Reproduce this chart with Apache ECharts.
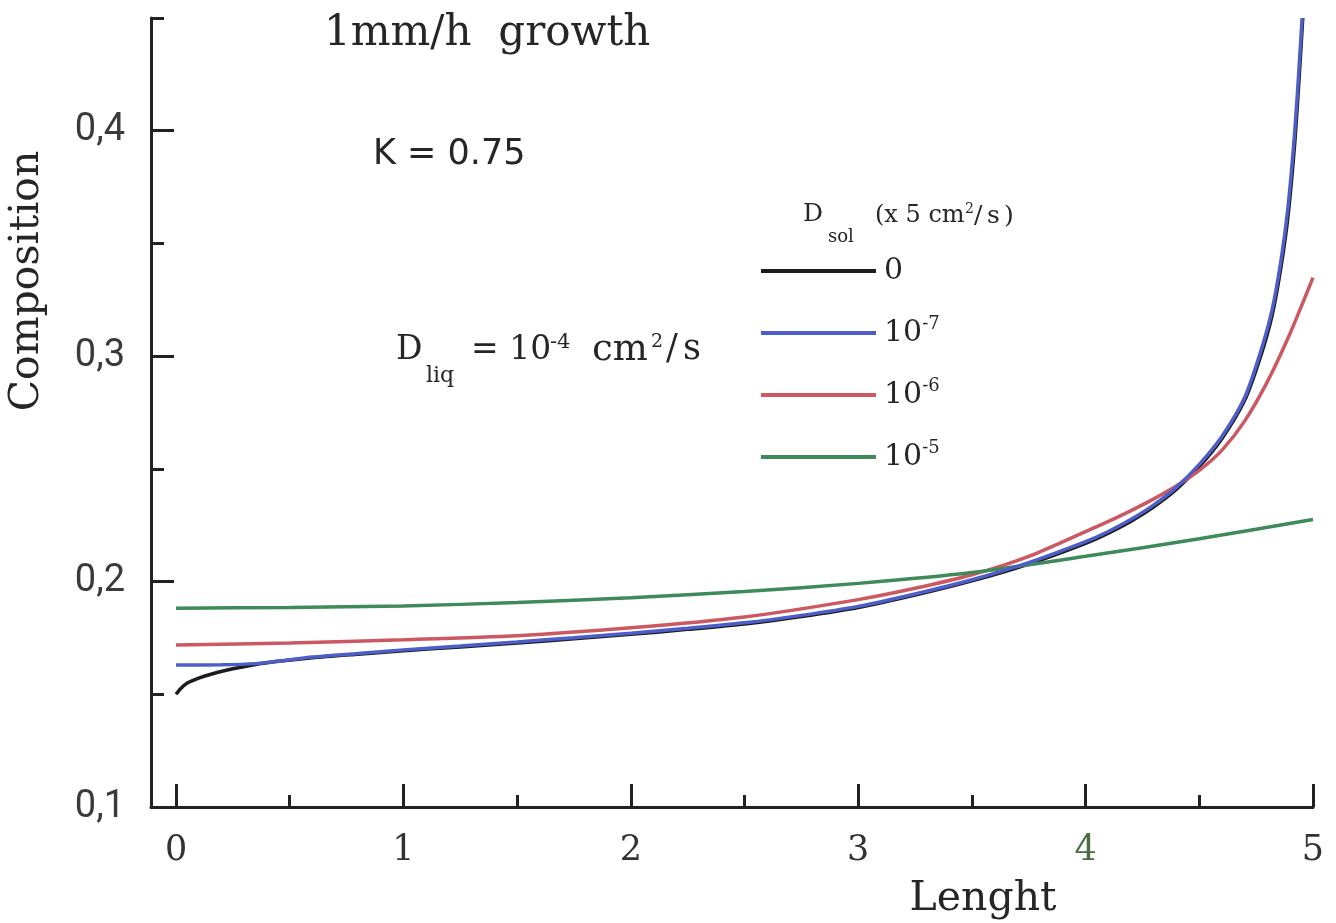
<!doctype html>
<html>
<head>
<meta charset="UTF-8">
<title>Composition vs Lenght</title>
<script src="https://cdn.jsdelivr.net/npm/echarts@6.0.0/dist/echarts.min.js"></script>
<style>
  html, body { margin: 0; padding: 0; background: #fff; }
  #chart { width: 1336px; height: 923px; }
</style>
</head>
<body>
<div id="chart"></div>
<script>
// Dsol = 0
var lenBlack = [0, 0.02, 0.05, 0.1, 0.15, 0.25, 0.4, 0.6, 0.8, 1.0, 1.25, 1.5, 1.75, 2.0, 2.25, 2.5, 2.75, 3.0, 3.25, 3.5, 3.75, 4.0, 4.1, 4.2, 4.3, 4.4, 4.5, 4.6, 4.7, 4.77, 4.82, 4.86, 4.89, 4.92, 4.94, 4.955];
var compBlack = [0.1500, 0.1525, 0.1550, 0.1572, 0.1588, 0.1613, 0.1640, 0.1662, 0.1678, 0.1693, 0.1710, 0.1728, 0.1746, 0.1766, 0.1788, 0.1812, 0.1845, 0.1885, 0.1940, 0.2003, 0.2078, 0.2170, 0.2215, 0.2268, 0.2332, 0.2410, 0.2510, 0.2635, 0.2805, 0.3000, 0.3180, 0.3400, 0.3620, 0.3950, 0.4250, 0.4500];
// Dsol = 10-7
var lenBlue = [0, 0.2, 0.35, 0.45, 0.6, 0.8, 1.0, 1.25, 1.5, 1.75, 2.0, 2.25, 2.5, 2.75, 3.0, 3.25, 3.5, 3.75, 4.0, 4.1, 4.2, 4.3, 4.4, 4.5, 4.6, 4.7, 4.77, 4.82, 4.86, 4.89, 4.92, 4.94, 4.952];
var compBlue = [0.1630, 0.1631, 0.1636, 0.1647, 0.1665, 0.1681, 0.1697, 0.1714, 0.1732, 0.1751, 0.1771, 0.1793, 0.1817, 0.1850, 0.1890, 0.1945, 0.2008, 0.2084, 0.2177, 0.2222, 0.2276, 0.2340, 0.2419, 0.2520, 0.2645, 0.2818, 0.3020, 0.3205, 0.3430, 0.3660, 0.4000, 0.4300, 0.4500];
// Dsol = 10-6
var lenRed = [0, 0.5, 1.0, 1.5, 2.0, 2.5, 3.0, 3.25, 3.5, 3.75, 4.0, 4.1, 4.2, 4.3, 4.4, 4.5, 4.6, 4.7, 4.8, 4.9, 5.0];
var compRed = [0.1719, 0.1728, 0.1742, 0.1760, 0.1795, 0.1843, 0.1920, 0.1970, 0.2030, 0.2112, 0.2222, 0.2267, 0.2315, 0.2367, 0.2425, 0.2493, 0.2583, 0.2713, 0.2888, 0.3103, 0.3348];
// Dsol = 10-5
var lenGreen = [0, 0.5, 1.0, 1.5, 2.0, 2.5, 3.0, 3.5, 4.0, 4.5, 5.0];
var compGreen = [0.1882, 0.1885, 0.1892, 0.1907, 0.1928, 0.1956, 0.1992, 0.2040, 0.2112, 0.2190, 0.2275];

var seriesNames = ['0', '10-7', '10-6', '10-5'];
var seriesColors = ['#1c1c1c', '#4d5ec8', '#cc5962', '#3f8a5a'];

var xMajor = [0, 1, 2, 3, 4, 5];
var xMinor = [0.5, 1.5, 2.5, 3.5, 4.5];
var yMajor = [0.1, 0.2, 0.3, 0.4];
var yMinor = [0.15, 0.25, 0.35, 0.45];

var chart = echarts.init(document.getElementById('chart'));

function pairs(xs, ys) {
  return xs.map(function(x, i) { return [x, ys[i]]; });
}

var SERIF = 'DejaVu Serif, serif';
var INK = '#262626';

function txt(x, y, s, size, family, extra) {
  var st = { text: s, fontSize: size, fontFamily: family || SERIF, fill: INK, align: 'left', verticalAlign: 'middle' };
  for (var k in (extra || {})) st[k] = extra[k];
  return { type: 'text', x: x, y: y, style: st, z: 10 };
}

var lines = [
  pairs(lenBlack, compBlack),
  pairs(lenBlue, compBlue),
  pairs(lenRed, compRed),
  pairs(lenGreen, compGreen)
];

var option = {
  backgroundColor: '#ffffff',
  animation: false,
  grid: { left: 151, right: 23, top: 18, bottom: 116 },
  legend: {
    orient: 'vertical',
    left: 761,
    top: 253,
    padding: 0,
    itemGap: 26,
    itemWidth: 115,
    itemHeight: 4,
    icon: 'rect',
    selectedMode: false,
    data: seriesNames,
    formatter: function(name) {
      return name === '0' ? '0' : '10{s|' + name.slice(2) + '}';
    },
    textStyle: {
      fontFamily: SERIF,
      fontSize: 30,
      lineHeight: 36,
      color: INK,
      padding: [0, 0, 0, 3],
      rich: {
        s: { fontFamily: SERIF, fontSize: 18, lineHeight: 16, verticalAlign: 'top', color: INK }
      }
    }
  },
  xAxis: [{
    type: 'value',
    min: -0.11,
    max: 5,
    position: 'bottom',
    splitLine: { show: false },
    axisLine: { onZero: false, lineStyle: { color: '#222', width: 3 } },
    axisTick: { inside: true, length: 23, customValues: xMajor, lineStyle: { color: '#222', width: 3 } },
    axisLabel: {
      customValues: xMajor,
      margin: 26,
      fontFamily: SERIF,
      fontSize: 35,
      color: '#333',
      formatter: function(v) { return v === 4 ? '{g|4}' : String(v); },
      rich: { g: { fontFamily: SERIF, fontSize: 35, color: '#4b6e45' } }
    }
  }, {
    type: 'value',
    min: -0.11,
    max: 5,
    position: 'bottom',
    splitLine: { show: false },
    axisLine: { show: false, onZero: false },
    axisTick: { inside: true, length: 12, customValues: xMinor, lineStyle: { color: '#222', width: 3 } },
    axisLabel: { show: false }
  }],
  yAxis: [{
    type: 'value',
    min: 0.1,
    max: 0.45,
    position: 'left',
    splitLine: { show: false },
    axisLine: { show: true, onZero: false, lineStyle: { color: '#222', width: 3 } },
    axisTick: { show: true, inside: true, length: 23, customValues: yMajor, lineStyle: { color: '#222', width: 3 } },
    axisLabel: {
      customValues: yMajor,
      margin: 26,
      fontFamily: 'Roboto, sans-serif',
      fontSize: 38,
      color: '#3a3a3a',
      formatter: function(v) { return v.toFixed(1).replace('.', ','); }
    }
  }, {
    type: 'value',
    min: 0.1,
    max: 0.45,
    position: 'left',
    splitLine: { show: false },
    axisLine: { show: false, onZero: false },
    axisTick: { show: true, inside: true, length: 13, customValues: yMinor, lineStyle: { color: '#222', width: 3 } },
    axisLabel: { show: false }
  }],
  series: seriesNames.map(function(name, i) {
    return {
      name: name,
      type: 'line',
      data: lines[i],
      showSymbol: false,
      smooth: 0.25,
      color: seriesColors[i],
      lineStyle: { color: seriesColors[i], width: 3.5 },
      z: i === 1 ? 5 : 4
    };
  }),
  graphic: [
    txt(324, 34, '1mm/h  growth', 42),
    txt(373, 155, 'K = 0.75', 35, 'DejaVu Sans, sans-serif'),
    txt(396, 350, 'D', 33),
    txt(426, 376, 'liq', 22),
    txt(471, 350, '= 10', 33),
    txt(550, 343, '-4', 21),
    txt(592, 350, 'cm', 37),
    txt(651, 342, '2', 19),
    txt(666, 350, '/', 35),
    txt(683, 350, 's', 35),
    txt(803, 214, 'D', 25),
    txt(828, 237, 'sol', 18),
    txt(875, 216, '(x 5 cm', 24),
    txt(965, 209, '2', 14),
    txt(974, 216, '/', 25),
    txt(987, 216, 's', 25),
    txt(1004, 216, ')', 25),
    txt(27, 281, 'Composition', 41, SERIF, { align: 'center' }),
    txt(983, 899, 'Lenght', 41, SERIF, { align: 'center' })
  ]
};

// rotate the y-axis title
option.graphic[17].rotation = Math.PI / 2;

chart.setOption(option);
</script>
</body>
</html>
